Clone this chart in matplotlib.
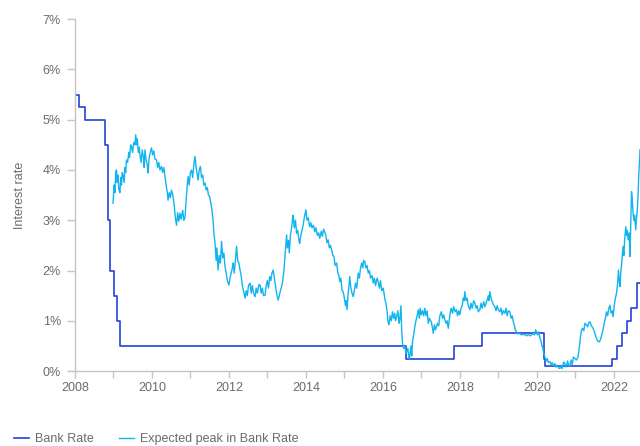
import matplotlib.pyplot as plt
from matplotlib.ticker import MultipleLocator, FuncFormatter

# Bank Rate: dates of changes (decimal years) and the rate from that date, %
bank_dates = [2008.0, 2008.106, 2008.275, 2008.77, 2008.85, 2008.925, 2009.02,
              2009.096, 2009.17, 2016.59, 2017.836, 2018.585, 2020.19, 2020.21,
              2021.955, 2022.09, 2022.21, 2022.34, 2022.455, 2022.59, 2022.68]
bank_rate = [5.5, 5.25, 5.0, 4.5, 3.0, 2.0, 1.5,
             1.0, 0.5, 0.25, 0.5, 0.75, 0.25, 0.1,
             0.25, 0.5, 0.75, 1.0, 1.25, 1.75, 1.75]

# Market-implied peak in Bank Rate, roughly fortnightly readings, %
peak_dates = [
    2008.99, 2009.02, 2009.04, 2009.06, 2009.08, 2009.10, 2009.12, 2009.14, 2009.17, 2009.19,
    2009.21, 2009.23, 2009.25, 2009.28, 2009.30, 2009.32, 2009.34, 2009.37, 2009.40, 2009.42,
    2009.45, 2009.47, 2009.50, 2009.53, 2009.56, 2009.58, 2009.60, 2009.62, 2009.65, 2009.67,
    2009.69, 2009.72, 2009.75, 2009.78, 2009.80, 2009.82, 2009.85, 2009.88, 2009.90, 2009.93,
    2009.96, 2009.99, 2010.02, 2010.05, 2010.08, 2010.12, 2010.15, 2010.18, 2010.21, 2010.25,
    2010.28, 2010.31, 2010.34, 2010.37, 2010.40, 2010.42, 2010.45, 2010.48, 2010.51, 2010.55,
    2010.58, 2010.61, 2010.64, 2010.67, 2010.70, 2010.73, 2010.76, 2010.80, 2010.83, 2010.86,
    2010.89, 2010.92, 2010.94, 2010.97, 2011.00, 2011.03, 2011.06, 2011.09, 2011.12, 2011.15,
    2011.18, 2011.20, 2011.23, 2011.26, 2011.29, 2011.32, 2011.35, 2011.38, 2011.41, 2011.44,
    2011.47, 2011.50, 2011.53, 2011.56, 2011.59, 2011.61, 2011.64, 2011.67, 2011.69, 2011.72,
    2011.75, 2011.78, 2011.81, 2011.84, 2011.87, 2011.90, 2011.93, 2011.96, 2012.00, 2012.03,
    2012.06, 2012.09, 2012.11, 2012.14, 2012.17, 2012.20, 2012.23, 2012.26, 2012.29, 2012.32,
    2012.35, 2012.38, 2012.42, 2012.45, 2012.48, 2012.51, 2012.55, 2012.58, 2012.61, 2012.64,
    2012.68, 2012.71, 2012.74, 2012.78, 2012.81, 2012.84, 2012.87, 2012.90, 2012.94, 2012.97,
    2013.00, 2013.03, 2013.06, 2013.09, 2013.12, 2013.15, 2013.18, 2013.21, 2013.24, 2013.28,
    2013.31, 2013.34, 2013.37, 2013.40, 2013.43, 2013.45, 2013.48, 2013.50, 2013.52, 2013.55,
    2013.57, 2013.60, 2013.63, 2013.65, 2013.67, 2013.70, 2013.73, 2013.76, 2013.79, 2013.82,
    2013.84, 2013.87, 2013.90, 2013.93, 2013.96, 2014.00, 2014.03, 2014.06, 2014.10, 2014.13,
    2014.16, 2014.20, 2014.23, 2014.26, 2014.30, 2014.33, 2014.36, 2014.40, 2014.43, 2014.46,
    2014.49, 2014.52, 2014.55, 2014.58, 2014.61, 2014.64, 2014.67, 2014.70, 2014.73, 2014.76,
    2014.80, 2014.83, 2014.86, 2014.88, 2014.91, 2014.94, 2014.97, 2015.00, 2015.03, 2015.05,
    2015.07, 2015.10, 2015.12, 2015.14, 2015.17, 2015.20, 2015.23, 2015.26, 2015.29, 2015.32,
    2015.36, 2015.39, 2015.42, 2015.45, 2015.48, 2015.50, 2015.53, 2015.56, 2015.59, 2015.62,
    2015.65, 2015.68, 2015.72, 2015.75, 2015.78, 2015.81, 2015.85, 2015.88, 2015.91, 2015.94,
    2015.97, 2016.01, 2016.04, 2016.06, 2016.08, 2016.11, 2016.13, 2016.16, 2016.19, 2016.22,
    2016.25, 2016.28, 2016.31, 2016.33, 2016.36, 2016.39, 2016.42, 2016.44, 2016.47, 2016.49,
    2016.51, 2016.54, 2016.57, 2016.60, 2016.62, 2016.65, 2016.68, 2016.70, 2016.73, 2016.75,
    2016.77, 2016.80, 2016.83, 2016.86, 2016.89, 2016.92, 2016.95, 2016.97, 2017.00, 2017.03,
    2017.06, 2017.09, 2017.12, 2017.15, 2017.18, 2017.21, 2017.24, 2017.26, 2017.29, 2017.31,
    2017.34, 2017.37, 2017.39, 2017.42, 2017.45, 2017.48, 2017.52, 2017.55, 2017.58, 2017.61,
    2017.64, 2017.67, 2017.70, 2017.73, 2017.76, 2017.78, 2017.81, 2017.84, 2017.88, 2017.91,
    2017.94, 2017.97, 2018.00, 2018.03, 2018.06, 2018.09, 2018.11, 2018.13, 2018.16, 2018.19,
    2018.22, 2018.26, 2018.29, 2018.32, 2018.36, 2018.39, 2018.42, 2018.45, 2018.48, 2018.52,
    2018.55, 2018.58, 2018.62, 2018.65, 2018.68, 2018.71, 2018.74, 2018.76, 2018.78, 2018.81,
    2018.84, 2018.87, 2018.91, 2018.94, 2018.97, 2019.00, 2019.04, 2019.07, 2019.10, 2019.13,
    2019.17, 2019.20, 2019.23, 2019.26, 2019.30, 2019.33, 2019.36, 2019.39, 2019.42, 2019.44,
    2019.47, 2019.51, 2019.55, 2019.60, 2019.65, 2019.70, 2019.73, 2019.78, 2019.82, 2019.86,
    2019.90, 2019.94, 2019.97, 2019.99, 2020.02, 2020.05, 2020.08, 2020.11, 2020.13, 2020.15,
    2020.18, 2020.21, 2020.24, 2020.27, 2020.30, 2020.34, 2020.37, 2020.40, 2020.44, 2020.47,
    2020.50, 2020.53, 2020.57, 2020.60, 2020.63, 2020.66, 2020.70, 2020.73, 2020.76, 2020.80,
    2020.83, 2020.86, 2020.89, 2020.92, 2020.95, 2020.99, 2021.03, 2021.07, 2021.10, 2021.13,
    2021.16, 2021.19, 2021.22, 2021.25, 2021.29, 2021.32, 2021.35, 2021.38, 2021.42, 2021.46,
    2021.49, 2021.52, 2021.55, 2021.58, 2021.62, 2021.65, 2021.68, 2021.72, 2021.75, 2021.78,
    2021.81, 2021.84, 2021.87, 2021.90, 2021.93, 2021.96, 2021.98, 2022.01, 2022.04, 2022.07,
    2022.10, 2022.12, 2022.14, 2022.16, 2022.18, 2022.21, 2022.24, 2022.26, 2022.28, 2022.31,
    2022.33, 2022.35, 2022.37, 2022.40, 2022.42, 2022.44, 2022.46, 2022.48, 2022.50, 2022.52,
    2022.54, 2022.57, 2022.59, 2022.61, 2022.63, 2022.65, 2022.67, 2022.68,
]
peak_rate = [
    3.34, 3.70, 3.55, 3.95, 4.00, 3.75, 3.90, 3.62, 3.55, 3.85,
    3.70, 3.95, 3.90, 3.75, 4.05, 3.95, 4.20, 4.15, 4.35, 4.25,
    4.50, 4.47, 4.35, 4.55, 4.50, 4.70, 4.50, 4.62, 4.35, 4.45,
    4.30, 4.15, 4.40, 4.25, 4.05, 4.40, 4.20, 4.10, 3.94, 4.25,
    4.35, 4.44, 4.30, 4.38, 4.22, 4.20, 4.05, 4.15, 4.00, 4.07,
    3.95, 4.05, 3.87, 3.70, 3.55, 3.40, 3.55, 3.45, 3.60, 3.47,
    3.30, 3.05, 2.90, 3.15, 2.98, 3.14, 3.02, 3.20, 3.00, 3.05,
    3.40, 3.70, 3.87, 3.70, 3.95, 4.00, 3.85, 4.10, 4.27, 4.05,
    3.90, 3.80, 4.00, 4.07, 3.85, 3.90, 3.70, 3.74, 3.60, 3.65,
    3.50, 3.47, 3.35, 3.20, 3.00, 2.75, 2.55, 2.20, 2.45, 2.01,
    2.30, 2.15, 2.58, 2.25, 2.35, 2.08, 1.95, 1.80, 1.71, 1.85,
    1.95, 2.05, 2.15, 1.95, 2.20, 2.48, 2.20, 2.15, 2.01, 1.90,
    1.70, 1.60, 1.45, 1.60, 1.50, 1.70, 1.75, 1.55, 1.70, 1.55,
    1.48, 1.65, 1.55, 1.72, 1.71, 1.55, 1.65, 1.50, 1.51, 1.70,
    1.80, 1.65, 1.88, 1.80, 1.95, 2.01, 1.85, 1.70, 1.55, 1.41,
    1.50, 1.60, 1.68, 1.80, 2.00, 2.21, 2.50, 2.71, 2.45, 2.60,
    2.35, 2.70, 2.85, 3.00, 3.10, 2.85, 3.00, 2.74, 2.80, 2.60,
    2.54, 2.70, 2.80, 2.91, 3.05, 3.21, 3.00, 3.05, 2.87, 2.95,
    2.85, 2.90, 2.77, 2.85, 2.70, 2.75, 2.64, 2.78, 2.68, 2.82,
    2.77, 2.70, 2.55, 2.61, 2.45, 2.50, 2.41, 2.30, 2.28, 2.10,
    2.15, 1.95, 1.90, 1.78, 1.85, 1.60, 1.58, 1.45, 1.30, 1.40,
    1.22, 1.55, 1.70, 1.88, 1.65, 1.55, 1.48, 1.60, 1.75, 1.65,
    1.95, 1.85, 2.05, 2.15, 2.05, 2.20, 2.18, 2.05, 2.10, 1.95,
    2.00, 1.85, 1.90, 1.75, 1.85, 1.70, 1.85, 1.78, 1.65, 1.80,
    1.60, 1.65, 1.50, 1.40, 1.35, 1.20, 1.00, 0.92, 1.10, 1.00,
    1.18, 1.05, 1.15, 1.00, 1.08, 1.20, 0.95, 1.02, 1.30, 0.80,
    0.55, 0.45, 0.50, 0.35, 0.38, 0.45, 0.25, 0.28, 0.50, 0.30,
    0.58, 0.72, 0.88, 1.00, 1.10, 1.22, 1.05, 1.25, 1.12, 1.20,
    1.10, 1.25, 1.10, 1.20, 0.95, 1.05, 1.00, 0.98, 0.85, 0.75,
    0.92, 0.82, 0.88, 0.95, 0.90, 1.10, 1.18, 1.05, 1.12, 1.02,
    0.95, 1.00, 0.85, 1.05, 1.20, 1.25, 1.15, 1.28, 1.18, 1.22,
    1.10, 1.20, 1.12, 1.25, 1.30, 1.45, 1.40, 1.58, 1.40, 1.45,
    1.30, 1.22, 1.35, 1.25, 1.40, 1.35, 1.25, 1.30, 1.18, 1.22,
    1.35, 1.25, 1.38, 1.28, 1.35, 1.42, 1.50, 1.40, 1.58, 1.45,
    1.38, 1.32, 1.28, 1.20, 1.30, 1.22, 1.18, 1.25, 1.12, 1.20,
    1.15, 1.25, 1.10, 1.20, 1.18, 1.05, 1.10, 0.98, 0.90, 0.82,
    0.78, 0.74, 0.75, 0.72, 0.73, 0.72, 0.70, 0.73, 0.70, 0.72,
    0.75, 0.72, 0.82, 0.78, 0.72, 0.78, 0.65, 0.60, 0.50, 0.48,
    0.35, 0.28, 0.20, 0.25, 0.17, 0.19, 0.12, 0.17, 0.10, 0.15,
    0.08, 0.12, 0.06, 0.05, 0.10, 0.05, 0.18, 0.15, 0.08, 0.20,
    0.10, 0.12, 0.22, 0.12, 0.28, 0.25, 0.22, 0.28, 0.45, 0.65,
    0.82, 0.85, 0.80, 0.95, 0.92, 0.88, 0.96, 0.98, 0.90, 0.85,
    0.80, 0.72, 0.65, 0.60, 0.58, 0.62, 0.70, 0.82, 0.95, 1.05,
    1.18, 1.10, 1.25, 1.31, 1.15, 1.20, 1.08, 1.30, 1.45, 1.55,
    1.75, 2.01, 1.80, 1.68, 1.95, 2.20, 2.48, 2.30, 2.60, 2.87,
    2.70, 2.80, 2.61, 2.75, 2.28, 2.90, 3.57, 3.40, 3.15, 3.00,
    3.10, 2.81, 3.05, 3.21, 3.50, 3.94, 4.20, 4.40,
]

BANK_COL = "#2442d8"
PEAK_COL = "#12b4ef"
GREY_TXT = "#6b6b6b"
GREY_AX = "#c4c4c4"

plt.rcParams["font.family"] = ["Liberation Sans", "DejaVu Sans"]

fig = plt.figure(figsize=(6.4, 4.46), dpi=100)
ax = fig.add_axes([0.117, 0.168, 0.883, 0.789])

ax.plot(bank_dates, bank_rate, drawstyle="steps-post", color=BANK_COL,
        lw=1.2, label="Bank Rate")
ax.plot(peak_dates, peak_rate, color=PEAK_COL, lw=1.0,
        label="Expected peak in Bank Rate")

ax.set_xlim(2008, 2022.68)
ax.set_ylim(0, 7)
ax.xaxis.set_major_locator(MultipleLocator(2))
ax.xaxis.set_minor_locator(MultipleLocator(1))
ax.xaxis.set_major_formatter(FuncFormatter(lambda v, p: f"{int(v)}"))
ax.yaxis.set_major_locator(MultipleLocator(1))
ax.yaxis.set_major_formatter(FuncFormatter(lambda v, p: f"{int(v)}%"))

for side in ("top", "right"):
    ax.spines[side].set_visible(False)
for side in ("left", "bottom"):
    ax.spines[side].set_color(GREY_AX)
    ax.spines[side].set_linewidth(1.0)

ax.tick_params(axis="both", which="both", colors=GREY_AX, labelcolor=GREY_TXT,
               labelsize=9, width=1.0)
ax.tick_params(axis="y", length=6, pad=4)
ax.tick_params(axis="x", which="major", length=5, pad=3)
ax.tick_params(axis="x", which="minor", length=5)

ax.set_ylabel("Interest rate", color=GREY_TXT, fontsize=9, labelpad=12)

ax.legend(loc="lower left", bbox_to_anchor=(-0.117, -0.225), ncol=2,
          frameon=False, fontsize=9, labelcolor=GREY_TXT, handlelength=1.2,
          handletextpad=0.5, columnspacing=2.0, borderaxespad=0)

fig.savefig("out.png", dpi=100)
